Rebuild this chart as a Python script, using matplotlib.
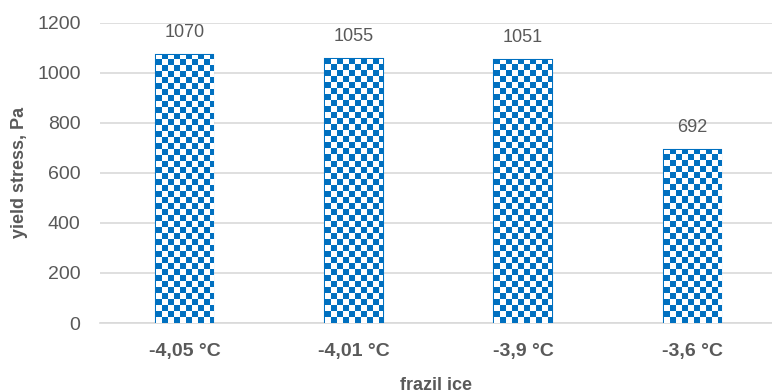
import numpy as np
import matplotlib
matplotlib.use('Agg')
import matplotlib.pyplot as plt
from matplotlib.colors import ListedColormap

# Data
categories = ['-4,05 °C', '-4,01 °C', '-3,9 °C', '-3,6 °C']
yield_stress = [1070, 1055, 1051, 692]
y_ticks = [0, 200, 400, 600, 800, 1000, 1200]

# Style
blue = '#0070C0'
text_gray = '#595959'
grid_gray = '#D9D9D9'
cell_px = 6  # checker cell size in pixels

plt.rcParams['font.family'] = ['Liberation Sans', 'DejaVu Sans']

fig = plt.figure(figsize=(7.72, 3.92), dpi=100)
ax = fig.add_axes([100 / 772, 1 - 323 / 392, 677 / 772, (323 - 22.5) / 392])

x = np.arange(len(categories))
bars = ax.bar(x, yield_stress, width=0.34, color='white', edgecolor=blue,
              linewidth=1.5, zorder=3)

ax.set_xlim(-0.5, len(categories) - 0.5)
ax.set_ylim(0, 1200)
ax.set_yticks(y_ticks)
ax.set_xticks(x)
ax.set_xticklabels(categories, fontsize=14, fontweight='bold', color=text_gray)
ax.tick_params(axis='x', length=0, pad=14.5)
ax.tick_params(axis='y', length=0, pad=14, labelsize=14, labelcolor=text_gray)

ax.grid(axis='y', color=grid_gray, linewidth=1.2, zorder=0)
for side in ['top', 'right', 'left']:
    ax.spines[side].set_visible(False)
ax.spines['bottom'].set_color(grid_gray)
ax.spines['bottom'].set_linewidth(1.2)

ax.set_ylabel('yield stress, Pa', fontsize=13, fontweight='bold', color=text_gray)
ax.yaxis.set_label_coords(-80 / 677, 0.5)
ax.yaxis.label.set_va('center')

fig.text(436 / 772, 2.5 / 392, 'frazil ice', ha='center', va='baseline',
         fontsize=13, fontweight='bold', color=text_gray)

# checkerboard fill, clipped to each bar
fig.canvas.draw()
px_per_x = ax.transData.transform((1, 0))[0] - ax.transData.transform((0, 0))[0]
px_per_y = ax.transData.transform((0, 1))[1] - ax.transData.transform((0, 0))[1]
dx = cell_px / px_per_x
dy = cell_px / px_per_y
checker_cmap = ListedColormap(['white', blue])
for bar in bars:
    x0, w, h = bar.get_x(), bar.get_width(), bar.get_height()
    nx = int(np.ceil(w / dx)) + 1
    ny = int(np.ceil(h / dy)) + 1
    board = (np.indices((ny, nx)).sum(axis=0) % 2)
    im = ax.imshow(board, cmap=checker_cmap, interpolation='nearest',
                   extent=(x0, x0 + nx * dx, 0, ny * dy), origin='lower',
                   aspect='auto', zorder=3.5)
    im.set_clip_path(bar)

ax.set_xlim(-0.5, len(categories) - 0.5)
ax.set_ylim(0, 1200)

for bar, v in zip(bars, yield_stress):
    ax.annotate(str(v), (bar.get_x() + bar.get_width() / 2, v),
                xytext=(0, 10), textcoords='offset points',
                ha='center', va='bottom', fontsize=13, color=text_gray)

fig.savefig('out.png', dpi=100)
